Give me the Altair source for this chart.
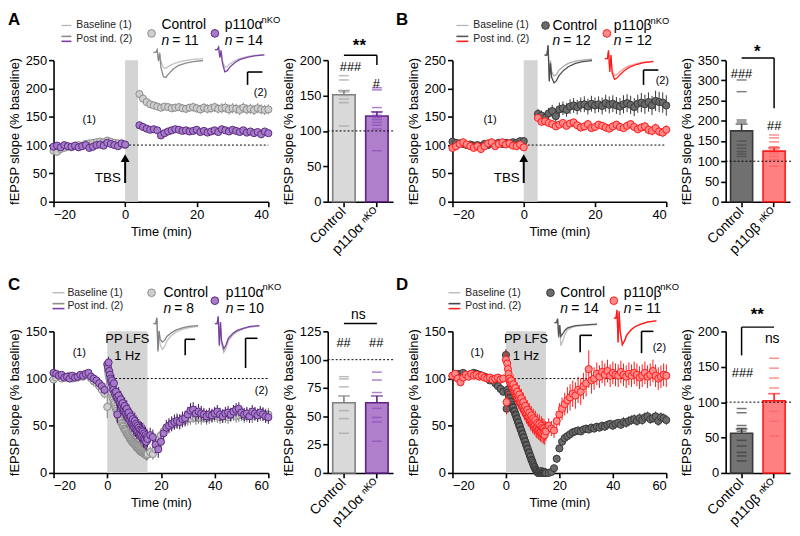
import altair as alt
import pandas as pd

FONT = "Liberation Sans"

# ---------------- time grids (min) ----------------
T_BASE_AB = list(range(-20, 1))                 # -20..0
T_POST_AB = list(range(4, 41))                  # 4..40
T_BASE_CD = list(range(-20, 0))                 # -20..-1
T_LFS_CD = [i * 0.25 for i in range(61)]        # 0..15 (1 Hz LFS period)
T_POST_CD = list(range(16, 61))                 # 16..60

# ---------------- panel A ----------------
A_CTRL_BASE = [90, 88, 93, 95, 97, 96, 98, 100, 99, 102, 103, 104, 105, 106, 105, 108, 106, 104, 103, 101, 100]
A_CTRL_BASE_E = [4, 4, 3, 3, 3, 3, 3, 3, 3, 3, 3, 3, 3, 3, 4, 4, 3, 3, 3, 3, 3]
A_CTRL_POST = [190, 182, 176, 172, 170, 168, 166, 168, 167, 165, 166, 167, 165, 164, 166, 167, 165, 163, 166,
               164, 165, 167, 164, 165, 166, 163, 165, 164, 162, 166, 163, 164, 162, 165, 163, 162, 163]
A_CTRL_POST_E = [7, 7, 6, 6, 6, 6, 6, 6, 7, 7, 7, 7, 7, 7, 7, 8, 8, 8, 8, 8, 8, 8, 8, 9, 9, 9, 9, 9, 9, 9, 9,
                 9, 9, 9, 9, 9, 9]
A_KO_BASE = [97, 99, 96, 100, 98, 97, 99, 96, 98, 100, 95, 97, 100, 101, 99, 104, 102, 100, 98, 103, 101]
A_KO_BASE_E = [4, 4, 4, 4, 3, 3, 3, 3, 3, 3, 3, 3, 3, 3, 3, 3, 3, 3, 3, 3, 3]
A_KO_POST = [135, 132, 129, 127, 128, 126, 117, 121, 124, 126, 128, 127, 125, 126, 124, 125, 127, 123, 125,
             122, 124, 126, 123, 128, 126, 124, 127, 125, 123, 126, 122, 124, 121, 123, 119, 124, 121]
A_KO_POST_E = [5, 5, 5, 5, 5, 5, 6, 5, 5, 5, 5, 5, 5, 5, 5, 5, 5, 5, 5, 5, 5, 5, 5, 5, 5, 5, 5, 5, 5, 5, 5,
               5, 5, 5, 6, 5, 5]

# ---------------- panel B ----------------
B_CTRL_BASE = [106, 104, 103, 102, 100, 101, 99, 100, 98, 102, 100, 103, 101, 104, 102, 104, 103, 105, 104, 107, 107]
B_CTRL_BASE_E = [5, 5, 4, 4, 4, 4, 4, 4, 4, 4, 4, 4, 4, 4, 4, 4, 4, 4, 4, 5, 5]
B_CTRL_POST = [155, 152, 148, 156, 160, 151, 163, 165, 162, 168, 170, 167, 171, 172, 168, 173, 170, 172, 169,
               174, 171, 173, 170, 168, 172, 174, 171, 167, 173, 175, 172, 176, 170, 178, 176, 175, 170]
B_CTRL_POST_E = [9, 9, 10, 10, 11, 11, 12, 12, 12, 13, 13, 13, 13, 14, 14, 14, 14, 14, 15, 15, 15, 15, 15, 15,
                 16, 16, 16, 16, 16, 17, 17, 17, 17, 18, 18, 18, 18]
B_KO_BASE = [95, 98, 102, 105, 101, 98, 95, 98, 93, 98, 103, 105, 98, 102, 105, 101, 103, 99, 98, 101, 96]
B_KO_BASE_E = [4, 4, 4, 4, 4, 4, 4, 4, 4, 4, 4, 4, 4, 4, 4, 4, 4, 4, 4, 4, 4]
B_KO_POST = [148, 141, 142, 139, 137, 133, 136, 139, 134, 138, 140, 135, 131, 133, 137, 130, 132, 136, 134,
             131, 129, 133, 136, 132, 130, 134, 137, 132, 128, 131, 133, 127, 125, 130, 124, 122, 127]
B_KO_POST_E = [6, 6, 6, 6, 6, 6, 6, 6, 6, 6, 7, 7, 7, 7, 7, 7, 7, 7, 7, 7, 7, 7, 7, 7, 7, 7, 7, 7, 7, 7,
               8, 8, 8, 8, 8, 8, 8]

# ---------------- panel C ----------------
C_CTRL_BASE = [99, 101, 103, 100, 102, 101, 103, 100, 102, 101, 103, 102, 104, 103, 100, 97, 95, 92, 88, 84]
C_CTRL_BASE_E = [3, 3, 3, 3, 3, 3, 3, 3, 3, 3, 3, 3, 3, 3, 3, 4, 4, 4, 5, 5]
C_CTRL_LFS = [70, 108, 104, 100, 95, 90, 86, 84, 80, 78, 75, 73, 70, 68, 66, 64, 62, 60, 58, 57,
              55, 53, 52, 50, 49, 47, 46, 45, 44, 42, 41, 40, 39, 38, 37, 36, 35, 34, 33, 32,
              31, 30, 30, 29, 28, 27, 27, 26, 25, 25, 24, 23, 23, 22, 22, 21, 21, 20, 20, 19, 20]
C_CTRL_LFS_E = [12, 10, 10, 9, 9, 9, 8, 8, 8, 8, 8, 8, 8, 8, 8, 8, 8, 8, 8, 8,
                8, 8, 8, 8, 8, 8, 8, 8, 8, 8, 8, 8, 8, 8, 8, 7, 7, 7, 7, 7,
                7, 7, 7, 7, 7, 7, 7, 7, 7, 6, 6, 6, 6, 6, 6, 6, 6, 6, 6, 6, 6]
C_CTRL_POST = [22, 20, 25, 32, 40, 44, 47, 50, 51, 52, 54, 55, 55, 56, 57, 58, 60, 58, 59, 58,
               60, 58, 59, 60, 61, 60, 59, 61, 60, 59, 61, 62, 60, 61, 62, 60, 61, 62, 60, 62,
               61, 62, 63, 61, 62]
C_CTRL_POST_E = [6, 6, 6, 6, 6, 6, 6, 6, 6, 6, 7, 7, 7, 7, 7, 7, 7, 7, 7, 7,
                 7, 7, 7, 7, 7, 7, 7, 7, 7, 7, 7, 7, 7, 7, 7, 7, 7, 7, 7, 7, 7, 7, 7, 7, 7]
C_KO_BASE = [106, 105, 103, 104, 101, 102, 100, 103, 101, 102, 104, 103, 105, 106, 102, 100, 98, 95, 92, 88]
C_KO_BASE_E = [3, 3, 3, 3, 3, 3, 3, 3, 3, 3, 3, 3, 3, 3, 3, 3, 4, 4, 4, 5]
C_KO_LFS = [115, 112, 117, 108, 104, 100, 96, 98, 92, 88, 95, 85, 83, 86, 80, 62, 78, 82, 76, 74,
            78, 72, 70, 74, 68, 66, 71, 65, 63, 68, 61, 58, 64, 57, 55, 60, 53, 52, 57, 50,
            48, 55, 47, 52, 45, 50, 44, 48, 42, 46, 40, 45, 38, 44, 36, 42, 35, 40, 33, 38, 36]
C_KO_LFS_E = [6, 8, 6, 10, 10, 10, 9, 9, 9, 9, 9, 9, 9, 9, 9, 9, 9, 9, 9, 9,
              9, 9, 9, 9, 9, 9, 9, 9, 9, 9, 9, 9, 9, 9, 9, 9, 9, 9, 9, 9,
              9, 9, 9, 9, 9, 9, 9, 9, 9, 9, 9, 9, 9, 9, 9, 9, 9, 9, 9, 9, 9]
C_KO_POST = [40, 38, 30, 25, 33, 42, 48, 50, 52, 54, 55, 54, 57, 58, 62, 66, 67, 63, 65, 63,
             62, 60, 62, 61, 63, 65, 62, 60, 63, 64, 62, 65, 67, 68, 64, 62, 63, 60, 65, 63,
             61, 64, 62, 60, 59]
C_KO_POST_E = [8, 8, 9, 9, 9, 9, 8, 8, 8, 8, 8, 8, 8, 8, 8, 8, 8, 8, 8, 8,
               7, 7, 7, 7, 7, 7, 7, 7, 7, 7, 7, 7, 7, 7, 7, 7, 7, 7, 7, 7, 7, 7, 7, 7, 7]

# ---------------- panel D ----------------
D_CTRL_BASE = [103, 102, 105, 104, 106, 104, 103, 105, 106, 105, 104, 103, 102, 101, 98, 99, 95, 92, 89, 86]
D_CTRL_BASE_E = [3, 3, 3, 3, 3, 3, 3, 3, 3, 3, 3, 3, 3, 3, 3, 3, 3, 4, 4, 4]
D_CTRL_LFS = [125, 68, 88, 85, 83, 80, 79, 76, 75, 72, 70, 69, 66, 65, 62, 61, 58, 57, 54, 53,
              50, 49, 46, 45, 42, 41, 38, 37, 34, 33, 30, 29, 26, 25, 22, 21, 18, 17, 14, 13,
              11, 9, 7, 6, 4, 3, 2, 1, 0, 0, 1, 0, 0, 2, 0, 1, 0, 0, 1, 0, 0]
D_CTRL_LFS_E = [6, 6, 5, 5, 5, 5, 5, 5, 5, 5, 5, 5, 5, 5, 5, 5, 5, 5, 5, 5,
                5, 5, 5, 5, 5, 5, 5, 5, 5, 5, 4, 4, 4, 4, 4, 4, 4, 4, 4, 4,
                3, 3, 3, 3, 3, 3, 2, 2, 2, 2, 2, 2, 2, 2, 2, 2, 2, 2, 2, 2, 2]
D_CTRL_POST = [0, 1, 5, 15, 26, 33, 37, 39, 41, 43, 44, 45, 44, 46, 47, 46, 48, 47, 49, 48,
               50, 49, 51, 52, 50, 52, 53, 51, 54, 53, 55, 56, 57, 55, 58, 56, 59, 60, 57, 58,
               60, 55, 59, 58, 56]
D_CTRL_POST_E = [2, 2, 3, 4, 4, 4, 4, 4, 4, 4, 4, 4, 4, 4, 4, 4, 4, 4, 4, 4,
                 4, 4, 4, 4, 4, 4, 4, 4, 5, 5, 5, 5, 5, 5, 5, 5, 5, 5, 5, 5, 5, 5, 5, 5, 5]
D_KO_BASE = [103, 105, 100, 96, 101, 104, 102, 105, 103, 104, 102, 103, 101, 100, 101, 99, 100, 101, 99, 100]
D_KO_BASE_E = [4, 4, 4, 4, 4, 4, 4, 4, 4, 4, 4, 4, 4, 4, 4, 4, 4, 4, 4, 4]
D_KO_LFS = [120, 75, 116, 110, 105, 100, 97, 95, 98, 92, 90, 94, 88, 86, 90, 84, 82, 86, 80, 78,
            83, 76, 74, 79, 72, 70, 75, 68, 66, 71, 64, 62, 67, 60, 59, 64, 57, 55, 61, 54,
            52, 58, 51, 50, 56, 48, 47, 53, 46, 45, 52, 44, 43, 50, 42, 48, 41, 47, 40, 45, 44]
D_KO_LFS_E = [10, 12, 10, 10, 10, 10, 10, 10, 10, 10, 10, 10, 10, 10, 10, 10, 10, 10, 10, 10,
              10, 10, 10, 10, 10, 10, 10, 10, 10, 10, 10, 10, 10, 10, 10, 10, 10, 10, 10, 10,
              10, 10, 10, 10, 10, 10, 10, 10, 10, 10, 10, 10, 10, 10, 10, 10, 10, 10, 10, 10, 10]
D_KO_POST = [50, 47, 45, 55, 62, 68, 73, 77, 80, 84, 82, 88, 86, 92, 95, 110, 98, 100, 105, 102,
             107, 104, 108, 103, 106, 104, 103, 107, 104, 102, 105, 103, 106, 104, 101, 103, 106, 102, 104, 108,
             103, 100, 102, 104, 103]
D_KO_POST_E = [8, 8, 8, 10, 12, 12, 12, 14, 14, 14, 14, 14, 14, 14, 14, 20, 14, 12, 12, 12,
               12, 12, 12, 12, 12, 12, 12, 12, 12, 12, 12, 12, 12, 12, 12, 12, 12, 12, 12, 12,
               12, 12, 12, 12, 12]

# ---------------- bar graphs ----------------
BAR_A_MEAN = [151, 121]
BAR_A_SEM = [6, 6]
BAR_A_DOTS = [[178, 172, 155, 150, 145, 140, 107],
              [161, 158, 133, 126, 122, 119, 116, 112, 108, 103, 72]]
BAR_B_MEAN = [175, 125]
BAR_B_SEM = [17, 8]
BAR_B_DOTS = [[301, 272, 202, 197, 150, 140, 132, 124, 118, 112],
              [165, 158, 148, 136, 128, 120, 112, 104, 88]]
BAR_C_MEAN = [62, 62]
BAR_C_SEM = [6, 6]
BAR_C_DOTS = [[85, 83, 76, 55, 48, 35],
              [89, 82, 71, 57, 49, 45, 28]]
BAR_D_MEAN = [56, 102]
BAR_D_SEM = [6, 10]
BAR_D_DOTS = [[91, 85, 67, 63, 59, 46, 38, 29, 24, 17],
              [162, 148, 134, 120, 100, 87, 73, 52]]

# ---------------- example fEPSP traces (ms, normalised) ----------------
TRACE_MS = [0, 1, 1.5, 2, 2.5, 3, 4, 5, 6, 8, 10, 13, 16, 20]
A_TR = {"cb": [0, 0, 0.1, -0.3, 0.0, -0.35, -0.6, -0.62, -0.55, -0.45, -0.38, -0.32, -0.28, -0.25],
        "cp": [0, 0, 0.1, -0.35, -0.05, -0.6, -0.95, -0.98, -0.85, -0.65, -0.52, -0.42, -0.36, -0.32],
        "kb": [0, 0, 0.1, -0.3, 0.0, -0.45, -0.75, -0.72, -0.62, -0.48, -0.38, -0.3, -0.25, -0.22],
        "kp": [0, 0, 0.1, -0.35, -0.05, -0.55, -0.95, -0.9, -0.75, -0.56, -0.43, -0.33, -0.27, -0.23]}
B_TR = {"cb": [0, 0, 0.35, -0.9, -0.2, -0.6, -0.75, -0.7, -0.55, -0.4, -0.3, -0.22, -0.18, -0.15],
        "cp": [0, 0, 0.35, -0.95, -0.3, -0.8, -1.0, -0.92, -0.75, -0.55, -0.42, -0.3, -0.24, -0.2],
        "kb": [0, 0, 0.3, -0.5, 0.1, -0.5, -0.7, -0.65, -0.55, -0.4, -0.3, -0.2, -0.14, -0.1],
        "kp": [0, 0, 0.35, -0.55, 0.15, -0.6, -0.85, -0.8, -0.68, -0.5, -0.36, -0.24, -0.16, -0.12]}
C_TR = {"cb": [0, 0, 0.2, -1.0, -0.3, -0.75, -0.9, -0.8, -0.6, -0.42, -0.3, -0.2, -0.14, -0.1],
        "cp": [0, 0, 0.2, -0.95, -0.25, -0.55, -0.65, -0.58, -0.45, -0.32, -0.23, -0.15, -0.1, -0.07],
        "kb": [0, 0, 0.25, -0.8, 0.05, -0.7, -1.0, -0.85, -0.6, -0.4, -0.28, -0.18, -0.12, -0.08],
        "kp": [0, 0, 0.25, -0.75, 0.05, -0.6, -0.88, -0.75, -0.52, -0.35, -0.24, -0.16, -0.1, -0.07]}
D_TR = {"cb": [0, 0, 0.15, -0.6, -0.1, -0.9, -0.7, -0.45, -0.3, -0.2, -0.15, -0.12, -0.1, -0.08],
        "cp": [0, 0, 0.15, -0.55, -0.1, -0.55, -0.42, -0.3, -0.22, -0.16, -0.12, -0.1, -0.08, -0.06],
        "kb": [0, 0, 0.3, -0.9, 0.25, -0.5, -1.0, -0.85, -0.65, -0.45, -0.32, -0.22, -0.15, -0.1],
        "kp": [0, 0, 0.3, -0.9, 0.25, -0.5, -0.98, -0.84, -0.63, -0.44, -0.31, -0.21, -0.14, -0.1]}

GROUPS_ALPHA = ["Control", "p110α ⁿᴷᴼ"]
GROUPS_BETA = ["Control", "p110β ⁿᴷᴼ"]

# ---------------- colours ----------------
GRAY_F, GRAY_S = "#cfcfcf", "#8c8c8c"
PURP_F, PURP_S, PURP_E = "#a77bc9", "#5a2a80", "#4a1a6b"
DARK_F, DARK_S = "#6b6b6b", "#383838"
RED_F, RED_S = "#ff8a8a", "#ff1a1a"

AXIS_STYLE = dict(domainColor="black", domainWidth=1.6, tickColor="black", tickWidth=1.6, tickSize=5,
                  labelFont=FONT, labelFontSize=13, labelColor="black", labelOverlap=False,
                  titleFont=FONT, titleFontSize=13, titleFontWeight="normal", titleColor="black", grid=False)

dummy = pd.DataFrame({"d": [0]})


def seg_df(parts):
    frames = []
    for t, v, e in parts:
        frames.append(pd.DataFrame({"t": t, "v": v, "e": e}))
    df = pd.concat(frames, ignore_index=True)
    df["lo"] = df["v"] - df["e"]
    df["hi"] = df["v"] + df["e"]
    return df


def T(s, x, y, size=13, align="left", baseline="middle", weight="normal", style="normal", color="black"):
    return alt.Chart(dummy).mark_text(text=s, font=FONT, fontSize=size, align=align, baseline=baseline,
                                      fontWeight=weight, fontStyle=style, color=color).encode(
        x=alt.value(x), y=alt.value(y))


def HL(x1, x2, y, color="black", w=1.5):
    return alt.Chart(dummy).mark_rule(color=color, strokeWidth=w).encode(
        x=alt.value(x1), x2=alt.value(x2), y=alt.value(y))


def VL(x, y1, y2, color="black", w=1.5):
    return alt.Chart(dummy).mark_rule(color=color, strokeWidth=w).encode(
        x=alt.value(x), y=alt.value(y1), y2=alt.value(y2))


def DOT(x, y, fill, stroke, size=60):
    return alt.Chart(dummy).mark_circle(size=size, color=fill, stroke=stroke, strokeWidth=1, opacity=1).encode(
        x=alt.value(x), y=alt.value(y))


def trace(vals, color, box, w=1.3):
    x1, x2, y1, y2 = box
    df = pd.DataFrame({"ms": TRACE_MS, "mv": vals})
    return alt.Chart(df).mark_line(color=color, strokeWidth=w).encode(
        x=alt.X("ms:Q", scale=alt.Scale(domain=[0, 20], range=[x1, x2]), axis=None),
        y=alt.Y("mv:Q", scale=alt.Scale(domain=[-1.0, 0.35], range=[y2, y1]), axis=None))


def scatter_panel(cfg):
    W, H = cfg["W"], 143
    xs = alt.Scale(domain=cfg["xdom"], nice=False, zero=False)
    ys = alt.Scale(domain=cfg["ydom"], nice=False, zero=True)
    xax = alt.Axis(values=cfg["xticks"], title="Time (min)", labelPadding=2, titlePadding=4, **AXIS_STYLE)
    yax = alt.Axis(values=cfg["yticks"], title="fEPSP slope (% baseline)", labelPadding=2,
                   titlePadding=4, **AXIS_STYLE)

    def X(f):
        return alt.X(f, type="quantitative", scale=xs, axis=xax)

    def Y(f):
        return alt.Y(f, type="quantitative", scale=ys, axis=yax)

    def XD(v):
        return alt.XDatum(v, type="quantitative", scale=xs, axis=xax)

    def YD(v):
        return alt.YDatum(v, type="quantitative", scale=ys, axis=yax)

    shade = alt.Chart(pd.DataFrame({"t": [0], "t2": [cfg["shade"]]})).mark_rect(color="#d4d4d4").encode(
        x=X("t"), x2="t2", y=alt.value(0), y2=alt.value(H))
    dotted = alt.Chart(dummy).mark_rule(color="black", strokeWidth=1, strokeDash=[2, 2]).encode(
        x=XD(0), x2=alt.X2Datum(cfg["xdom"][1]), y=YD(100))
    layers = [shade, dotted]
    for df, fill, stroke, ecol in cfg["series"]:
        layers.append(alt.Chart(df).mark_rule(color=ecol, strokeWidth=1).encode(x=X("t"), y=Y("lo"), y2="hi"))
        layers.append(alt.Chart(df).mark_circle(size=52, color=fill, stroke=stroke, strokeWidth=1,
                                                opacity=1).encode(x=X("t"), y=Y("v")))
    if cfg.get("tbs"):
        layers.append(alt.Chart(dummy).mark_rule(color="black", strokeWidth=2).encode(
            x=XD(0), y=YD(33), y2=alt.Y2Datum(72)))
        layers.append(alt.Chart(dummy).mark_point(shape="triangle-up", filled=True, size=80, color="black",
                                                  opacity=1).encode(x=XD(0), y=YD(77)))
    if cfg.get("lfs"):
        layers.append(alt.Chart(dummy).mark_text(text="PP LFS", font=FONT, fontSize=13).encode(
            x=XD(7.5), y=alt.value(cfg["lfs_y"][0])))
        layers.append(alt.Chart(dummy).mark_text(text="1 Hz", font=FONT, fontSize=13).encode(
            x=XD(7.5), y=alt.value(cfg["lfs_y"][1])))
    main = alt.layer(*layers)

    L = cfg["leg"]
    ann = [T(cfg["letter"], L["letter"][0], L["letter"][1], 17, baseline="top", weight="bold")]
    lx1, lx2, ly = L["base_line"]
    ann.append(HL(lx1, lx2, ly, cfg["base_col"], 1.3))
    ann.append(T("Baseline (1)", L["text_x"], ly, 10.5, color="#222222"))
    pa, pb = L["post_y"]
    ann.append(HL(lx1, lx2, pa, cfg["ctrl_line"], 1.6))
    ann.append(HL(lx1, lx2, pb, cfg["ko_line"], 1.6))
    ann.append(T("Post ind. (2)", L["text_x"], (pa + pb) / 2, 10.5, color="#222222"))
    cdx, cdy = L["ctrl_dot"]
    ann.append(DOT(cdx, cdy, cfg["series"][0][1], cfg["series"][0][2]))
    ctx, cty = L["ctrl_text"]
    ann.append(T("Control", ctx, cty, 14, baseline="alphabetic"))
    ann.append(T("n", ctx, L["n_y"], 14, baseline="alphabetic", style="italic"))
    ann.append(T("= " + cfg["n"][0], ctx + 11, L["n_y"], 14, baseline="alphabetic"))
    kdx, kdy = L["ko_dot"]
    ann.append(DOT(kdx, kdy, cfg["series"][1][1], cfg["series"][1][2]))
    ktx, kty = L["ko_text"]
    ann.append(T(cfg["ko_name"], ktx, kty, 14, baseline="alphabetic"))
    ann.append(T("nKO", ktx + 37, kty - 7, 9.5, baseline="alphabetic"))
    ann.append(T("n", ktx, L["n_y"], 14, baseline="alphabetic", style="italic"))
    ann.append(T("= " + cfg["n"][1], ktx + 11, L["n_y"], 14, baseline="alphabetic"))
    for sx1, sx2, sy1, sy2 in L["scalebars"]:
        ann.append(HL(sx1, sx2, sy1, "black", 1.6))
        ann.append(VL(sx1, sy1, sy2, "black", 1.6))
    ann.append(T("(1)", L["one"][0], L["one"][1], 11, align="center"))
    ann.append(T("(2)", L["two"][0], L["two"][1], 11, align="center"))
    if cfg.get("tbs"):
        ann.append(T("TBS", L["tbs"][0], L["tbs"][1], 13.5, align="right", baseline="alphabetic"))

    tr = cfg["traces"]
    tcols = cfg["trace_cols"]
    trs = [trace(tr["cb"], tcols[0], L["ctrl_box"]), trace(tr["cp"], tcols[1], L["ctrl_box"]),
           trace(tr["kb"], tcols[2], L["ko_box"]), trace(tr["kp"], tcols[3], L["ko_box"])]

    return alt.layer(main, *trs, *ann).resolve_scale(x="independent", y="independent").properties(
        width=W, height=H)


def bar_panel(cfg):
    W, H = cfg["W"], 143
    groups = cfg["groups"]
    xs = alt.Scale(domain=groups, paddingInner=0.32, paddingOuter=0.15)
    ys = alt.Scale(domain=[0, cfg["ymax"]], nice=False)
    xstyle = dict(AXIS_STYLE)
    xstyle["labelFontSize"] = 14
    xax = alt.Axis(title=None, labelAngle=-45, labelAlign="right", labelBaseline="middle", labelPadding=3,
                   **xstyle)
    yax = alt.Axis(values=cfg["yticks"], title="fEPSP slope (% baseline)", labelPadding=2, titlePadding=4,
                   **AXIS_STYLE)

    def X(f):
        return alt.X(f, type="nominal", scale=xs, axis=xax, sort=groups)

    def Y(f):
        return alt.Y(f, type="quantitative", scale=ys, axis=yax)

    def XD(v):
        return alt.XDatum(v, type="nominal", scale=xs, axis=xax)

    def YD(v):
        return alt.YDatum(v, type="quantitative", scale=ys, axis=yax)

    layers = []
    for i, g in enumerate(groups):
        m, s = cfg["mean"][i], cfg["sem"][i]
        bdf = pd.DataFrame({"g": [g], "m": [m], "hi": [m + s]})
        layers.append(alt.Chart(bdf).mark_bar(fill=cfg["fill"][i], stroke=cfg["stroke"][i],
                                              strokeWidth=1.6).encode(x=X("g"), y=Y("m")))
    for i, g in enumerate(groups):
        ddf = pd.DataFrame({"g": [g] * len(cfg["dots"][i]), "v": cfg["dots"][i]})
        layers.append(alt.Chart(ddf).mark_tick(color=cfg["dotcol"][i], size=10, thickness=1.5).encode(
            x=X("g"), y=Y("v")))
    for i, g in enumerate(groups):
        m, s = cfg["mean"][i], cfg["sem"][i]
        bdf = pd.DataFrame({"g": [g], "m": [m], "hi": [m + s]})
        layers.append(alt.Chart(bdf).mark_rule(color=cfg["stroke"][i], strokeWidth=1.6).encode(
            x=X("g"), y=Y("m"), y2="hi"))
        layers.append(alt.Chart(bdf).mark_tick(color=cfg["stroke"][i], size=12, thickness=1.6).encode(
            x=X("g"), y=Y("hi")))
    layers.append(alt.Chart(dummy).mark_rule(color="black", strokeWidth=1, strokeDash=[2, 2]).encode(
        x=alt.value(0), x2=alt.value(W + 1), y=YD(100)))
    # significance bracket
    by = cfg["bracket_y"]
    layers.append(alt.Chart(dummy).mark_rule(color="black", strokeWidth=1.5).encode(
        x=XD(groups[0]), x2=alt.X2Datum(groups[1]), y=YD(by)))
    if cfg.get("bracket_drop"):
        gi, yend = cfg["bracket_drop"]
        layers.append(alt.Chart(dummy).mark_rule(color="black", strokeWidth=1.5).encode(
            x=XD(groups[gi]), y=YD(by), y2=alt.Y2Datum(yend)))
    for s, x, y, size, weight in cfg["texts"]:
        layers.append(T(s, x, y, size, align="center", weight=weight))
    return alt.layer(*layers).properties(width=W, height=H)


# ---------------- panel configs ----------------
cfgA = dict(
    letter="A", W=217, xdom=[-20, 40], xticks=[-20, 0, 20, 40], ydom=[0, 250], yticks=[0, 50, 100, 150, 200, 250],
    shade=3.6, tbs=True, n=["11", "14"], ko_name="p110α",
    series=[(seg_df([(T_BASE_AB, A_CTRL_BASE, A_CTRL_BASE_E), (T_POST_AB, A_CTRL_POST, A_CTRL_POST_E)]),
             GRAY_F, GRAY_S, GRAY_S),
            (seg_df([(T_BASE_AB, A_KO_BASE, A_KO_BASE_E), (T_POST_AB, A_KO_POST, A_KO_POST_E)]),
             PURP_F, PURP_S, PURP_E)],
    base_col="#b5b5b5", ctrl_line="#8c8c8c", ko_line="#7b3fa8",
    traces=A_TR, trace_cols=["#c4c4c4", "#8a8a8a", "#c4c4c4", "#7b3fa8"],
    leg=dict(letter=(-46, -49), base_line=(8, 18, -35), text_x=23, post_y=(-24, -19),
             ctrl_dot=(99, -27), ctrl_text=(109, -31), n_y=-15, ko_dot=(163, -27), ko_text=(173, -31),
             ctrl_box=(101, 151, -17, 18), ko_box=(163, 213, -19, 13), scalebars=[(196, 211, 12, 25)],
             one=(36, 60), two=(209, 33), tbs=(68, 123)))

cfgB = dict(
    letter="B", W=216, xdom=[-20, 40], xticks=[-20, 0, 20, 40], ydom=[0, 250], yticks=[0, 50, 100, 150, 200, 250],
    shade=3.9, tbs=True, n=["12", "12"], ko_name="p110β",
    series=[(seg_df([(T_BASE_AB, B_CTRL_BASE, B_CTRL_BASE_E), (T_POST_AB, B_CTRL_POST, B_CTRL_POST_E)]),
             DARK_F, DARK_S, DARK_S),
            (seg_df([(T_BASE_AB, B_KO_BASE, B_KO_BASE_E), (T_POST_AB, B_KO_POST, B_KO_POST_E)]),
             RED_F, RED_S, RED_S)],
    base_col="#b5b5b5", ctrl_line="#555555", ko_line="#ff2020",
    traces=B_TR, trace_cols=["#a9a9a9", "#4d4d4d", "#ff9a9a", "#ff1a1a"],
    leg=dict(letter=(-57, -49), base_line=(4, 16, -35), text_x=21, post_y=(-24, -19),
             ctrl_dot=(94, -35), ctrl_text=(101, -30), n_y=-15, ko_dot=(156, -27), ko_text=(163, -30),
             ctrl_box=(93, 141, -15, 23), ko_box=(154, 203, -10, 23), scalebars=[(193, 208, 10, 25)],
             one=(38, 61), two=(212, 21), tbs=(68, 123)))

cfgC = dict(
    letter="C", W=217, xdom=[-20, 60], xticks=[-20, 0, 20, 40, 60], ydom=[0, 150], yticks=[0, 50, 100, 150],
    shade=15, lfs=True, lfs_y=(8, 25), n=["8", "10"], ko_name="p110α",
    series=[(seg_df([(T_BASE_CD, C_CTRL_BASE, C_CTRL_BASE_E), (T_LFS_CD, C_CTRL_LFS, C_CTRL_LFS_E),
                     (T_POST_CD, C_CTRL_POST, C_CTRL_POST_E)]), GRAY_F, GRAY_S, "#7a7a7a"),
            (seg_df([(T_BASE_CD, C_KO_BASE, C_KO_BASE_E), (T_LFS_CD, C_KO_LFS, C_KO_LFS_E),
                     (T_POST_CD, C_KO_POST, C_KO_POST_E)]), PURP_F, PURP_S, "#3f0f5e")],
    base_col="#b5b5b5", ctrl_line="#8c8c8c", ko_line="#7b3fa8",
    traces=C_TR, trace_cols=["#c0c0c0", "#808080", "#b0b0b0", "#7b3fa8"],
    leg=dict(letter=(-46, -55), base_line=(-1, 11, -39), text_x=14, post_y=(-28, -23),
             ctrl_dot=(99, -39), ctrl_text=(111, -35), n_y=-19, ko_dot=(163, -31), ko_text=(174, -35),
             ctrl_box=(101, 146, -18, 21), ko_box=(163, 208, -18, 21),
             scalebars=[(133, 143, 8, 24), (194, 206, 7, 37)], one=(26, 22), two=(210, 60)))

cfgD = dict(
    letter="D", W=216, xdom=[-20, 60], xticks=[-20, 0, 20, 40, 60], ydom=[0, 150], yticks=[0, 50, 100, 150],
    shade=15, lfs=True, lfs_y=(8, 25), n=["14", "11"], ko_name="p110β",
    series=[(seg_df([(T_BASE_CD, D_CTRL_BASE, D_CTRL_BASE_E), (T_LFS_CD, D_CTRL_LFS, D_CTRL_LFS_E),
                     (T_POST_CD, D_CTRL_POST, D_CTRL_POST_E)]), DARK_F, DARK_S, DARK_S),
            (seg_df([(T_BASE_CD, D_KO_BASE, D_KO_BASE_E), (T_LFS_CD, D_KO_LFS, D_KO_LFS_E),
                     (T_POST_CD, D_KO_POST, D_KO_POST_E)]), RED_F, RED_S, RED_S)],
    base_col="#b5b5b5", ctrl_line="#444444", ko_line="#ff2020",
    traces=D_TR, trace_cols=["#bdbdbd", "#555555", "#ff9a9a", "#ff1a1a"],
    leg=dict(letter=(-57, -55), base_line=(-4, 8, -39), text_x=13, post_y=(-28, -23),
             ctrl_dot=(99, -39), ctrl_text=(109, -35), n_y=-19, ko_dot=(163, -31), ko_text=(173, -35),
             ctrl_box=(103, 146, -18, 17), ko_box=(163, 206, -23, 14),
             scalebars=[(129, 141, 4, 21), (191, 203, 0, 22)], one=(25, 22), two=(209, 17)))

barA = dict(W=66, ymax=200, yticks=[0, 50, 100, 150, 200], groups=GROUPS_ALPHA, mean=BAR_A_MEAN, sem=BAR_A_SEM,
            dots=BAR_A_DOTS, fill=["#d9d9d9", "#b07fcc"], stroke=["#808080", "#5c2585"],
            dotcol=["#a0a0a0", "#8a4db5"], bracket_y=207, bracket_drop=(1, 193),
            texts=[("**", 32, -14, 17, "bold"), ("###", 23, 7, 13, "normal"), ("#", 49, 24, 13, "normal")])
barB = dict(W=65, ymax=350, yticks=[0, 50, 100, 150, 200, 250, 300, 350], groups=GROUPS_BETA, mean=BAR_B_MEAN,
            sem=BAR_B_SEM, dots=BAR_B_DOTS, fill=["#707070", "#ff8080"], stroke=["#3a3a3a", "#ff1a1a"],
            dotcol=["#4a4a4a", "#ff5c5c"], bracket_y=355, bracket_drop=(1, 231),
            texts=[("*", 32, -8, 17, "bold"), ("###", 16, 14, 13, "normal"), ("##", 49, 67, 13, "normal")])
barC = dict(W=66, ymax=125, yticks=[0, 25, 50, 75, 100, 125], groups=GROUPS_ALPHA, mean=BAR_C_MEAN,
            sem=BAR_C_SEM, dots=BAR_C_DOTS, fill=["#d9d9d9", "#b07fcc"], stroke=["#808080", "#5c2585"],
            dotcol=["#a0a0a0", "#8a4db5"], bracket_y=132,
            texts=[("ns", 31, -16, 14, "normal"), ("##", 16, 12, 13, "normal"), ("##", 49, 12, 13, "normal")])
barD = dict(W=65, ymax=200, yticks=[0, 50, 100, 150, 200], groups=GROUPS_BETA, mean=BAR_D_MEAN, sem=BAR_D_SEM,
            dots=BAR_D_DOTS, fill=["#737373", "#ff8080"], stroke=["#3a3a3a", "#ff1a1a"],
            dotcol=["#3a3a3a", "#ff6060"], bracket_y=206, bracket_drop=(0, 166),
            texts=[("**", 32, -16, 17, "bold"), ("ns", 47, 8, 14, "normal"), ("###", 17, 42, 13, "normal")])

chart = alt.concat(
    scatter_panel(cfgA), bar_panel(barA), scatter_panel(cfgB), bar_panel(barB),
    scatter_panel(cfgC), bar_panel(barC), scatter_panel(cfgD), bar_panel(barD),
    columns=4, spacing={"row": 131, "column": 60}, bounds="flush", align="each",
).properties(
    padding={"left": 0, "top": 0, "right": 0, "bottom": 0}
).configure_axis(**AXIS_STYLE).configure_view(stroke=None)

chart.save("out.html", embed_options={"renderer": "svg", "actions": False})
